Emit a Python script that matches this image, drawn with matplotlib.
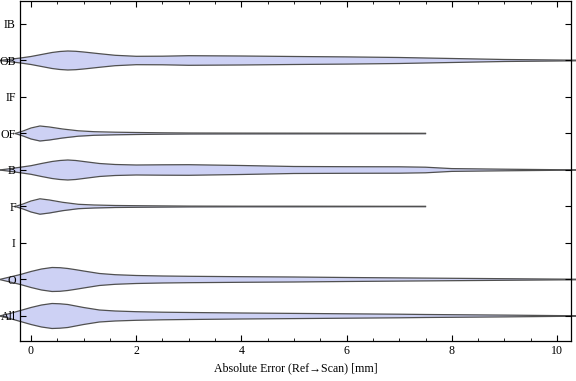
import numpy as np
import matplotlib
matplotlib.use("Agg")
import matplotlib.pyplot as plt
from matplotlib.ticker import MultipleLocator

plt.rcParams["font.family"] = ["Liberation Serif", "DejaVu Serif"]
plt.rcParams["font.size"] = 8.6

# categories bottom -> top
categories = ["All", "O", "I", "F", "B", "OF", "IF", "OB", "IB"]

# violin outlines: sample x (mm) and half-width (px at 36.5 px / category)
xs_wide = [-0.6, -0.4, -0.2, 0, 0.2, 0.4, 0.55, 0.7, 0.85, 1.0, 1.3, 1.6, 2.0, 2.5, 3.0,
           4.0, 5.0, 6.0, 7.0, 7.5, 8.0, 9.0, 10.0, 10.6]
hw_OB = [0, 1.2, 2.5, 4.0, 6.0, 8.0, 9.0, 9.5, 9.2, 8.5, 6.8, 5.2, 4.2, 4.3, 4.8,
         4.5, 4.0, 3.6, 3.0, 2.5, 2.0, 1.0, 0.5, 0.2]
hw_B = [0, 1.3, 2.8, 4.3, 6.5, 8.5, 9.5, 10.0, 9.5, 8.5, 6.5, 5.5, 5.0, 5.2, 5.3,
        4.5, 3.5, 3.3, 3.2, 2.8, 1.4, 0.8, 0.3, 0.1]
hw_O = [0, 2.5, 5.0, 8.0, 10.5, 12.0, 11.8, 11.0, 9.8, 8.5, 6.0, 4.8, 4.0, 3.5, 3.2,
        2.8, 2.5, 2.0, 1.6, 1.4, 1.2, 0.8, 0.4, 0.2]
hw_All = [0, 2.5, 5.5, 8.5, 11.0, 12.5, 12.2, 11.5, 10.0, 8.5, 6.0, 5.0, 4.3, 3.8, 3.5,
          3.0, 2.6, 2.2, 1.8, 1.5, 1.3, 0.9, 0.4, 0.2]

xs_narrow = [-0.3, -0.15, 0, 0.17, 0.35, 0.6, 0.9, 1.2, 1.6, 2.0, 2.5, 3.0,
             4.0, 5.0, 6.0, 7.0, 7.5]
hw_OF = [0, 2.5, 5.5, 7.5, 6.5, 4.5, 2.7, 1.8, 1.3, 1.0, 0.7, 0.5,
         0.4, 0.35, 0.3, 0.25, 0.2]
hw_F = [0, 2.5, 5.5, 7.7, 6.5, 4.2, 2.2, 1.5, 1.0, 0.8, 0.6, 0.4,
        0.3, 0.3, 0.25, 0.2, 0.2]

violins = {
    "OB": (xs_wide, hw_OB),
    "B": (xs_wide, hw_B),
    "O": (xs_wide, hw_O),
    "All": (xs_wide, hw_All),
    "OF": (xs_narrow, hw_OF),
    "F": (xs_narrow, hw_F),
}

PX_PER_CAT = 36.5
FILL = "#cdd1f4"
EDGE = "#505050"

fig = plt.figure(figsize=(5.76, 3.81), dpi=100)
ax = fig.add_axes([20 / 576, 1 - 341 / 381, 551 / 576, 340 / 381])

for i, name in enumerate(categories):
    if name not in violins:
        continue
    y0 = i + 1
    x, hw = violins[name]
    x = np.asarray(x)
    h = np.asarray(hw) / PX_PER_CAT
    ax.fill_between(x, y0 - h, y0 + h, color=FILL, lw=0, clip_on=False, zorder=1)
    ax.plot(x, y0 + h, color=EDGE, lw=0.9, clip_on=False, zorder=1.2)
    ax.plot(x, y0 - h, color=EDGE, lw=0.9, clip_on=False, zorder=1.2)

ax.set_xlim(-0.209, 10.266)
ax.set_ylim(0.315, 9.63)
ax.set_yticks(range(1, len(categories) + 1))
ax.set_yticklabels(categories)
ax.xaxis.set_major_locator(MultipleLocator(2))
ax.xaxis.set_minor_locator(MultipleLocator(0.5))
ax.tick_params(axis="both", which="major", direction="in", length=4, width=0.8,
               top=True, right=True, pad=3, colors="black")
ax.tick_params(axis="x", which="minor", direction="in", length=2, width=0.6, top=True)
ax.xaxis.set_zorder(5)
ax.yaxis.set_zorder(5)
for s in ax.spines.values():
    s.set_linewidth(0.9)
    s.set_zorder(5)
ax.set_xlabel("Absolute Error (Ref\u2192Scan) [mm]", labelpad=4)

fig.savefig("out.png", dpi=100)
